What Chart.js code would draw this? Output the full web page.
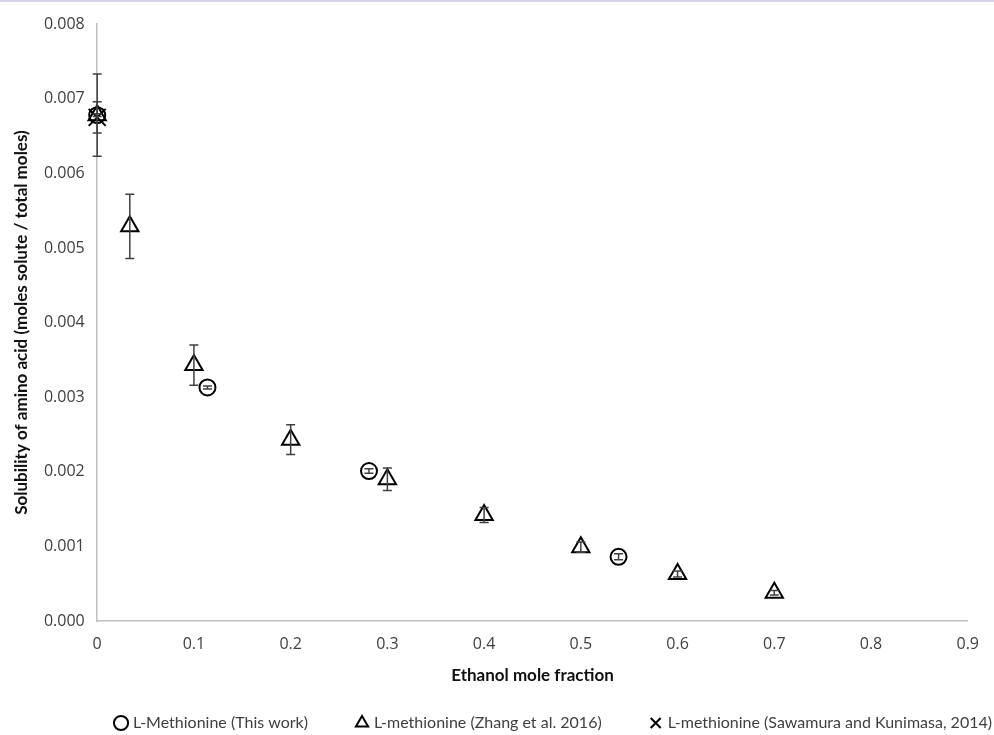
<!DOCTYPE html>
<html>
<head>
<meta charset="utf-8">
<script src="https://cdn.jsdelivr.net/npm/chart.js@4.4.1/dist/chart.umd.min.js"></script>
<style>
  html, body { margin: 0; padding: 0; background: #fff; }
  #wrap { width: 994px; height: 733px; border-top: 2px solid #d4d6e6; position: relative; }
</style>
</head>
<body>
<div id="wrap"><canvas id="solChart"></canvas></div>
<script>
// Dati
const thisWorkX = [0, 0.114, 0.281, 0.539];
const thisWorkY = [0.00678, 0.00313, 0.00201, 0.00086];
const thisWorkErr = [0.00002, 0.00002, 0.00003, 0.00004];

const zhangX = [0, 0.0337, 0.1, 0.2, 0.3, 0.4, 0.5, 0.6, 0.7];
const zhangY = [0.00678, 0.00529, 0.00343, 0.00243, 0.00190, 0.00142, 0.00099, 0.00063, 0.00038];
const zhangErr = [0.00055, 0.00043, 0.00027, 0.00020, 0.00015, 0.00010, 0.00007, 0.00004, 0.00003];

const sawamuraX = [0];
const sawamuraY = [0.00675];
const sawamuraErr = [0.00021];

const xTicks = [0, 0.1, 0.2, 0.3, 0.4, 0.5, 0.6, 0.7, 0.8, 0.9];
const yTicks = [0, 0.001, 0.002, 0.003, 0.004, 0.005, 0.006, 0.007, 0.008];

const seriesNames = [
    'L-Methionine (This work)',
    'L-methionine (Zhang et al. 2016)',
    'L-methionine (Sawamura and Kunimasa, 2014)'
];

const LEGEND_PAD = 50;

function toPoints(xs, ys, errs) {
    return xs.map((x, i) => ({ x: x, y: ys[i], err: errs[i] }));
}

// Barre di errore disegnate con le scale del grafico
const errorBars = {
    id: 'errorBars',
    afterDatasetsDraw(chart) {
        const c = chart.ctx;
        const xs = chart.scales.x, ys = chart.scales.y;
        c.save();
        c.strokeStyle = '#404040';
        c.lineWidth = 1.5;
        chart.data.datasets.forEach(ds => {
            ds.data.forEach(p => {
                const px = xs.getPixelForValue(p.x);
                const top = ys.getPixelForValue(p.y + p.err);
                const bot = ys.getPixelForValue(p.y - p.err);
                const cap = 4.5;
                c.beginPath();
                c.moveTo(px, top); c.lineTo(px, bot);
                c.moveTo(px - cap, top); c.lineTo(px + cap, top);
                c.moveTo(px - cap, bot); c.lineTo(px + cap, bot);
                c.stroke();
            });
        });
        c.restore();
    }
};

// Sposta la legenda: spaziatura larga in orizzontale ma poco spazio in verticale
const legendShift = {
    id: 'legendShift',
    afterLayout(chart) {
        const lg = chart.legend;
        if (!lg) return;
        const dx = 992 + LEGEND_PAD - lg.right;
        const dy = (chart.height - 12) - (lg.top + LEGEND_PAD + 8);
        lg.left += dx; lg.right += dx;
        lg.top += dy;
        lg.bottom = chart.height;
        lg.width = lg.right - lg.left;
        lg.height = lg.bottom - lg.top;
    }
};

const ctx = document.getElementById('solChart').getContext('2d');
const solChart = new Chart(ctx, {
    type: 'scatter',
    data: {
        datasets: [{
            label: seriesNames[0],
            data: toPoints(thisWorkX, thisWorkY, thisWorkErr),
            pointStyle: 'circle',
            pointRadius: 8,
            borderColor: '#000',
            backgroundColor: 'rgba(0,0,0,0)',
            borderWidth: 2,
            clip: false
        }, {
            label: seriesNames[1],
            data: toPoints(zhangX, zhangY, zhangErr),
            pointStyle: 'triangle',
            pointRadius: 10,
            borderColor: '#000',
            backgroundColor: 'rgba(0,0,0,0)',
            borderWidth: 2,
            clip: false
        }, {
            label: seriesNames[2],
            data: toPoints(sawamuraX, sawamuraY, sawamuraErr),
            pointStyle: 'crossRot',
            pointRadius: 12,
            borderColor: '#000',
            backgroundColor: 'rgba(0,0,0,0)',
            borderWidth: 2,
            clip: false
        }]
    },
    options: {
        responsive: true,
        maintainAspectRatio: false,
        animation: false,
        layout: { padding: { top: 22, right: 0, left: 11, bottom: 0 } },
        plugins: {
            tooltip: { enabled: false },
            legend: {
                position: 'bottom',
                align: 'end',
                maxHeight: 51,
                labels: {
                    usePointStyle: true,
                    boxWidth: 8,
                    boxHeight: 10,
                    padding: LEGEND_PAD,
                    color: '#404040',
                    font: { family: 'Lato', size: 16 },
                    generateLabels(chart) {
                        return chart.data.datasets.map((ds, i) => ({
                            text: ds.label,
                            pointStyle: ds.pointStyle,
                            strokeStyle: '#000',
                            fillStyle: 'rgba(0,0,0,0)',
                            lineWidth: 2,
                            fontColor: '#404040',
                            datasetIndex: i,
                            hidden: false
                        }));
                    }
                }
            }
        },
        scales: {
            x: {
                type: 'linear',
                min: 0, max: 0.9,
                afterBuildTicks: axis => { axis.ticks = xTicks.map(v => ({ value: v })); },
                grid: { display: false, drawTicks: false },
                border: { display: true, color: '#bfbfbf', width: 1.5 },
                ticks: {
                    color: '#404040',
                    padding: 15,
                    font: { family: 'Open Sans', size: 16, lineHeight: 1 },
                    callback: v => String(Math.round(v * 10) / 10)
                },
                title: {
                    display: true,
                    text: 'Ethanol mole fraction',
                    color: '#111',
                    padding: { top: 0, bottom: 0 },
                    font: { family: 'Lato', size: 17, weight: 'bold', lineHeight: 1 }
                }
            },
            y: {
                type: 'linear',
                min: 0, max: 0.008,
                afterBuildTicks: axis => { axis.ticks = yTicks.map(v => ({ value: v })); },
                grid: { display: false, drawTicks: false },
                border: { display: true, color: '#bfbfbf', width: 1.5 },
                ticks: {
                    color: '#404040',
                    padding: 12.5,
                    font: { family: 'Open Sans', size: 16 },
                    callback: v => v.toFixed(3)
                },
                title: {
                    display: true,
                    text: 'Solubility of amino acid (moles solute / total moles)',
                    color: '#111',
                    padding: { top: 0, bottom: 0 },
                    font: { family: 'Lato', size: 17, weight: 'bold' }
                }
            }
        }
    },
    plugins: [errorBars, legendShift]
});
</script>
</body>
</html>
